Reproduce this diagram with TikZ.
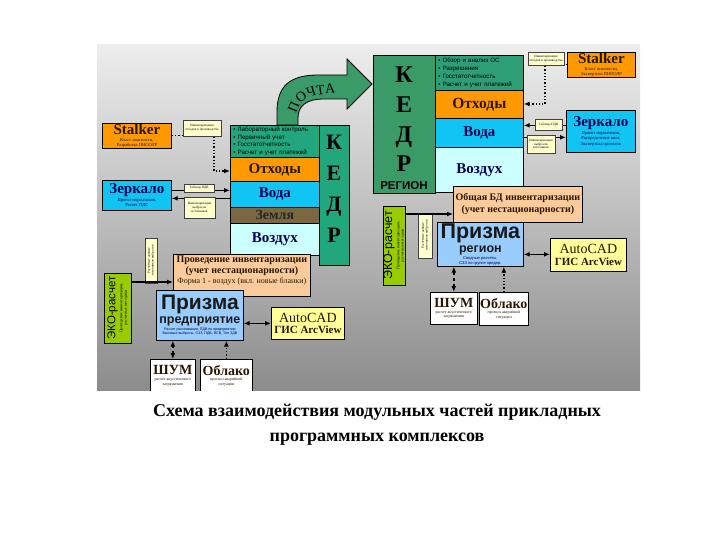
\documentclass[tikz,border=0pt]{standalone}
\usepackage{fontspec}
\setmainfont{Liberation Serif}
\setsansfont{Liberation Sans}
\usetikzlibrary{arrows.meta,decorations.text}
\definecolor{cOrange}{HTML}{FF9900}
\definecolor{cCyan}{HTML}{10C4F4}
\definecolor{cAir}{HTML}{CCFFFF}
\definecolor{cEarth}{HTML}{7C6840}
\definecolor{cTeal}{HTML}{22A67E}
\definecolor{cTealB}{HTML}{2E9E76}
\definecolor{cGreen}{HTML}{3A9A68}
\definecolor{cPeach}{HTML}{FCCB9C}
\definecolor{cBlue}{HTML}{99CCFF}
\definecolor{cLime}{HTML}{99CC00}
\definecolor{cYellow}{HTML}{FFFF99}
\definecolor{cNote}{HTML}{FFFFCC}
\definecolor{cNavy}{HTML}{000055}
\definecolor{cDark}{HTML}{2A1600}
\newcommand{\myfs}[2]{{\fontsize{#1}{#1}\selectfont #2}}
\begin{document}
\begin{tikzpicture}[x=1pt,y=-1pt,
  box/.style={draw=black, line width=0.7pt, inner sep=0pt, anchor=north west, align=center, font=\fontsize{4.5}{5.2}\selectfont},
  note/.style={draw=black!75, fill=cNote, line width=0.5pt, inner sep=0.5pt, align=center, font=\fontsize{3.3}{3.8}\selectfont},
  arr/.style={line width=1.3pt, -{Latex[length=6pt,width=5pt]}},
  dbl/.style={line width=1.3pt, {Latex[length=6pt,width=5pt]}-{Latex[length=6pt,width=5pt]}},
  dotarr/.style={line width=1.3pt, dotted, -{Latex[length=6pt,width=5pt]}},
  bul/.style={box, align=left, font=\sffamily\fontsize{6.2}{7.9}\selectfont, inner xsep=3pt},
  txt/.style={inner sep=0pt, align=center}
]
\useasboundingbox (0,0) rectangle (720,540);
\fill[white] (0,0) rectangle (720,540);
\begin{scope}
\clip (97,45) rectangle (640,390);
\shade[top color=black!7, bottom color=black!45] (97,45) rectangle (640,390);

% ---------- POCHTA arrow ----------
\draw[fill=cGreen, line width=0.8pt] (277,125) -- (277,112) .. controls (277,86) and (290,75) .. (318,75) -- (347,75) -- (347,59) -- (372,84) -- (347,109) -- (347,99) -- (324,99) .. controls (306,99) and (298,106) .. (298,118) -- (298,125) -- cycle;
\path[decorate, decoration={text along path, text align=center, text={|\fontsize{14}{14}\selectfont|ПОЧТА}}] (295,128) .. controls (295,98) and (306,93) .. (350,93);

% ---------- left part ----------
\node[box, fill=cOrange, minimum width=69, minimum height=25, text=cDark] (stalkerL) at (102,123) {\myfs{15}{\bfseries Stalker}\\[1pt]Класс опасности,\\Разработка ПНООЛР};
\node[box, fill=cCyan, minimum width=69, minimum height=30, text=cNavy] (zerkL) at (102,180) {\myfs{15}{\bfseries Зеркало}\\[1pt]Проект нормативов,\\Расчет ПДС};

\node[bul, fill=cTeal, minimum width=89, minimum height=32, text width=83] (bulL) at (230,125) {• Лабораторный контроль\\• Первичный учет\\• Госстатотчетность\\• Расчет и учет платежей};
\node[box, fill=cOrange, minimum width=89, minimum height=24, text=cDark] (otxL) at (230,157) {\myfs{15}{\bfseries Отходы}};
\node[box, fill=cCyan, minimum width=89, minimum height=26, text=cNavy] (vodaL) at (230,181) {\myfs{15}{\bfseries Вода}};
\node[box, fill=cEarth, minimum width=89, minimum height=16, text=black!85] (zemL) at (230,207) {\myfs{14}{\bfseries Земля}};
\node[box, fill=cAir, minimum width=89, minimum height=32, text=cNavy] (vozL) at (230,223) {\myfs{15}{\bfseries Воздух}};
\node[box, fill=cTeal, minimum width=30, minimum height=140] (kedrL) at (319,125) {};
\node[txt, font=\fontsize{22}{31}\selectfont\bfseries] (kedrLt) at (334,189) {К\\Е\\Д\\Р};

\coordinate (dl1) at (214,171);
\draw[dotarr] (stalkerL.east) -| (dl1) -- (dl1 -| otxL.west);
\node[note, minimum width=38, minimum height=16] (nL1) at (202,128) {Инвентаризация\\отходов и производства};

\coordinate (a1) at ([yshift=5]zerkL.east);
\coordinate (a2) at ([yshift=-3]zerkL.east);
\draw[arr] (a1) -- (a1 -| vodaL.west);
\draw[arr] (a2 -| vodaL.west) -- (a2);
\node[note, minimum width=30, minimum height=8] (nL2) at (199,188) {Таблица ПДВ};
\node[note, minimum width=31, minimum height=21] (nL3) at (199.5,207.5) {Инвентаризация\\выбросов\\источников};

\node[box, fill=cPeach, minimum width=137, minimum height=42, text=cDark, font=\fontsize{8}{9}\selectfont] (provL) at (173,254) {\myfs{10}{\bfseries Проведение инвентаризации}\\[1pt]\myfs{10}{\bfseries (учет нестационарности)}\\[1pt]Форма 1 - воздух (вкл. новые бланки)\\[2pt]};

\node[box, fill=cLime, minimum width=27, minimum height=70] (ekoL) at (104,273) {};
\node[txt, rotate=90, font=\fontsize{4}{4.6}\selectfont, text=black] (ekoLt) at (117.5,308) {\myfs{11.5}{\sffamily ЭКО-расчет}\\[1pt]Проведение инвентаризации,\\расчетные методики};
\node[note, rotate=90, minimum width=45, minimum height=12] (nL4) at (151,260.5) {Расчетные данные\\источников выбросов};
\coordinate (e1) at ([yshift=-9]ekoL.north east);
\draw[arr] (e1) -- (e1 -| provL.west);

\node[box, fill=cBlue, minimum width=87, minimum height=50, text=cNavy, font=\sffamily\fontsize{3.6}{4.2}\selectfont] (prizL) at (156,290) {\myfs{21}{\bfseries\color{black!90}Призма}\\[1.5pt]\myfs{12.5}{\bfseries\color{black!90}предприятие}\\[1pt]Расчет рассеивания, ПДВ по предприятию\\Валовые выбросы, СЗЗ, ПДВ, ВСВ, Тип ЗДВ};
\node[box, fill=cYellow, minimum width=73, minimum height=32, text=cDark] (acadL) at (271,307) {\myfs{14}{AutoCAD}\\[2.5pt]\myfs{11}{\bfseries ГИС ArcView}};
\coordinate (p1) at ([yshift=-8]prizL.east);
\draw[dbl] (p1) -- (p1 -| acadL.west);

\node[box, fill=white, minimum width=45, minimum height=33, text=cDark, font=\fontsize{4}{4.6}\selectfont] (shumL) at (150,359) {\myfs{14}{\bfseries ШУМ}\\[1pt]расчет акустического\\загрязнения};
\node[box, fill=white, minimum width=52, minimum height=33, text=cDark, font=\fontsize{4}{4.6}\selectfont] (oblL) at (200,359) {\myfs{14}{\bfseries Облако}\\[1pt]прогноз аварийной\\ситуации};
\draw[dbl, dashed] (shumL.north) -- (shumL.north |- prizL.south);
\draw[dotarr] (oblL.north) -- (oblL.north |- prizL.south);

% ---------- right part ----------
\node[box, fill=cGreen, minimum width=62, minimum height=138] (kedrR) at (373,55) {};
\node[txt, font=\fontsize{24}{29.7}\selectfont\bfseries] (kedrRt) at (404,119.5) {К\\Е\\Д\\Р};
\node[txt, font=\sffamily\bfseries\fontsize{11.5}{12}\selectfont] (regR) at (404,186) {РЕГИОН};

\node[bul, fill=cTealB, minimum width=88, minimum height=35, text width=82] (bulR) at (435,55) {• Обзор и анализ ОС\\• Разрешения\\• Госстатотчетность\\• Расчет и учет платежей};
\node[box, fill=cOrange, minimum width=88, minimum height=28, text=cDark] (otxR) at (435,90) {\myfs{15.5}{\bfseries Отходы}};
\node[box, fill=cCyan, minimum width=88, minimum height=29, text=cNavy] (vodaR) at (435,118) {\myfs{15}{\bfseries Вода}};
\node[box, fill=cAir, minimum width=88, minimum height=45, text=cNavy] (vozR) at (435,147) {\myfs{15}{\bfseries Воздух}};

\node[box, fill=cOrange, minimum width=68, minimum height=25, text=cDark] (stalkerR) at (567,52) {\myfs{15}{\bfseries Stalker}\\[1pt]Класс опасности,\\Экспертиза ПНООЛР};
\coordinate (d2) at (545,104);
\draw[dotarr] (stalkerR.west) -| (d2) -- (d2 -| otxR.east);
\node[note, minimum width=36, minimum height=13] (nR1) at (546,58.5) {Инвентаризация\\отходов и производства};

\node[box, fill=cCyan, minimum width=69, minimum height=42, text=cNavy] (zerkR) at (566,110) {\myfs{15}{\bfseries Зеркало}\\[1pt]Проект нормативов,\\Распределение квот,\\Экспертиза проектов};
\coordinate (r1) at ([yshift=6]zerkR.west);
\coordinate (r2) at ([yshift=-6]zerkR.west);
\draw[arr] (r1) -- (r1 -| vodaR.east);
\draw[arr] (r2 -| vodaR.east) -- (r2);
\node[note, minimum width=27, minimum height=11] (nR2) at (548.5,124.5) {Таблица ПДВ};
\node[note, minimum width=28, minimum height=18] (nR3) at (541,144) {Инвентаризация\\выбросов\\источников};

\node[box, fill=cPeach, minimum width=129, minimum height=36, text=cDark] (bdR) at (453,186) {\myfs{10}{\bfseries Общая БД инвентаризации}\\[2pt]\myfs{10}{\bfseries (учет нестационарности)}};

\node[box, fill=cLime, minimum width=22, minimum height=79] (ekoR) at (383,206) {};
\node[txt, rotate=90, font=\fontsize{3.8}{4.4}\selectfont, text=black] (ekoRt) at (394,245.5) {\myfs{12.5}{\sffamily ЭКО-расчет}\\[1pt]Проведение инвентаризации,\\расчетные методики};
\node[note, rotate=90, minimum width=45, minimum height=14] (nR4) at (425,235.5) {Расчетные данные\\источников выбросов};
\coordinate (e2) at ([yshift=-8]ekoR.north east);
\draw[arr] (e2) -- (e2 -| bdR.west);

\node[box, fill=cBlue, minimum width=86, minimum height=44, text=cNavy, font=\sffamily\fontsize{4}{4.6}\selectfont] (prizR) at (437,222) {\myfs{21.5}{\bfseries\color{black!90}Призма}\\[1.5pt]\myfs{12.5}{\bfseries\color{black!90}регион}\\[1pt]Сводные расчеты,\\СЗЗ по группе предпр.};
\node[box, fill=cYellow, minimum width=76, minimum height=33, text=cDark] (acadR) at (550,238) {\myfs{14}{AutoCAD}\\[2.5pt]\myfs{11}{\bfseries ГИС ArcView}};
\coordinate (p2) at ([yshift=-10]prizR.east);
\draw[dbl] (p2) -- (p2 -| acadR.west);

\node[box, fill=white, minimum width=47, minimum height=32, text=cDark, font=\fontsize{4}{4.6}\selectfont] (shumR) at (430,292) {\myfs{14}{\bfseries ШУМ}\\[1pt]расчет акустического\\загрязнения};
\node[box, fill=white, minimum width=49, minimum height=33, text=cDark, font=\fontsize{4}{4.6}\selectfont] (oblR) at (479,292) {\myfs{14}{\bfseries Облако}\\[1pt]прогноз аварийной\\ситуации};
\draw[dbl, dashed] (shumR.north) -- (shumR.north |- prizR.south);
\draw[dotarr] (oblR.north) -- (oblR.north |- prizR.south);
\end{scope}

% ---------- caption ----------
\node[txt, font=\bfseries\fontsize{18}{25}\selectfont] (cap) at (377,424.5) {Схема взаимодействия модульных частей прикладных\\программных комплексов};
\end{tikzpicture}
\end{document}
